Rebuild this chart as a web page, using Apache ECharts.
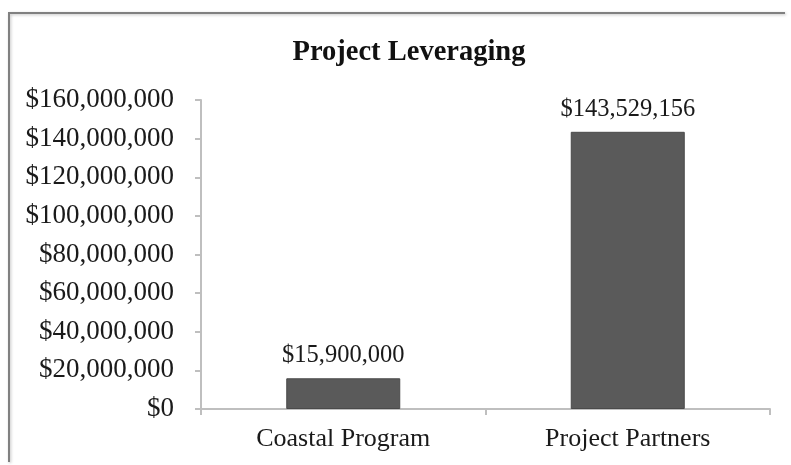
<!DOCTYPE html>
<html>
<head>
<meta charset="utf-8">
<script src="https://cdn.jsdelivr.net/npm/echarts@6/dist/echarts.min.js"></script>
<style>
  html, body { margin: 0; padding: 0; background: #fff; }
  #chart { width: 791px; height: 465px; }
</style>
</head>
<body>
<div id="chart"></div>
<script>
const categories = ['Coastal Program', 'Project Partners']
const amounts = [15900000, 143529156]
const yTicks = [0, 20000000, 40000000, 60000000, 80000000, 100000000, 120000000, 140000000, 160000000]

const fmtMoney = (v) => '$' + Math.round(v).toLocaleString('en-US')
const serif = '"Liberation Serif", "Times New Roman", serif'

const chart = echarts.init(document.getElementById('chart'))

chart.setOption({
  animation: false,
  backgroundColor: '#fff',
  title: {
    text: 'Project Leveraging',
    left: 404,
    top: 33,
    textAlign: 'center',
    textStyle: { fontFamily: serif, fontSize: 28.5, fontWeight: 'bold', color: '#111' },
  },
  grid: { left: 201, right: 21, top: 100, bottom: 56 },
  xAxis: {
    type: 'category',
    data: categories,
    axisLine: { lineStyle: { color: '#bfbfbf', width: 2 } },
    axisTick: { show: true, length: 6, lineStyle: { color: '#bfbfbf', width: 2 } },
    axisLabel: { fontFamily: serif, fontSize: 26, color: '#1a1a1a', margin: 17 },
  },
  yAxis: {
    type: 'value',
    min: yTicks[0],
    max: yTicks[yTicks.length - 1],
    interval: yTicks[1] - yTicks[0],
    splitLine: { show: false },
    axisLine: { show: true, lineStyle: { color: '#bfbfbf', width: 2 } },
    axisTick: { show: true, length: 6, lineStyle: { color: '#bfbfbf', width: 2 } },
    axisLabel: { fontFamily: serif, fontSize: 27, color: '#1a1a1a', margin: 27, formatter: fmtMoney },
  },
  series: [{
    type: 'bar',
    data: amounts,
    barWidth: 114,
    itemStyle: { color: '#5a5a5a', borderColor: '#4a4a4a', borderWidth: 1 },
    label: {
      show: true,
      position: 'top',
      distance: 10,
      fontFamily: serif,
      fontSize: 24.5,
      color: '#1a1a1a',
      formatter: (p) => fmtMoney(p.value),
    },
  }],
  graphic: [
    {
      type: 'polyline',
      shape: { points: [[9, 462], [9, 13], [785, 13]] },
      style: { stroke: '#808080', lineWidth: 2, fill: null, shadowColor: 'rgba(0,0,0,0.25)', shadowBlur: 3, shadowOffsetX: 1, shadowOffsetY: 1 },
      silent: true,
    },
  ],
})
</script>
</body>
</html>
